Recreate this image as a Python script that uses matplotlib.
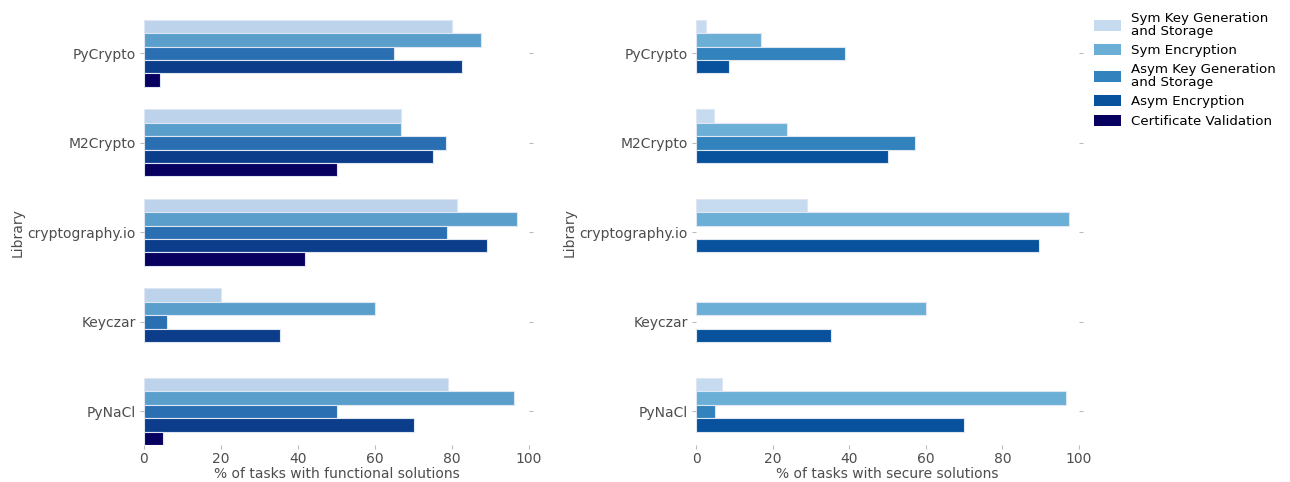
import matplotlib
matplotlib.use("Agg")
import matplotlib.pyplot as plt
import numpy as np
from matplotlib.patches import Patch

libraries = ["PyCrypto", "M2Crypto", "cryptography.io", "Keyczar", "PyNaCl"]
series = ["Sym Key Generation\nand Storage", "Sym Encryption",
          "Asym Key Generation\nand Storage", "Asym Encryption",
          "Certificate Validation"]

functional_sym_key = [80.0, 66.7, 81.3, 20.0, 79.0]
functional_sym_enc = [87.5, 66.7, 97.0, 60.0, 96.2]
functional_asym_key = [65.0, 78.5, 78.7, 5.9, 50.0]
functional_asym_enc = [82.5, 75.0, 89.1, 35.2, 70.0]
functional_cert = [4.2, 50.0, 41.9, 0.0, 5.0]

secure_sym_key = [2.5, 4.7, 29.0, 0.0, 6.8]
secure_sym_enc = [17.0, 23.7, 97.3, 60.0, 96.6]
secure_asym_key = [39.0, 57.1, 0.0, 0.0, 4.9]
secure_asym_enc = [8.5, 50.0, 89.5, 35.2, 70.0]
secure_cert = [0.0, 0.0, 0.0, 0.0, 0.0]

xticks = [0, 20, 40, 60, 80, 100]

left_colors = ["#bcd3eb", "#5a9fcc", "#2a6fb2", "#0c3d8a", "#07005f"]
right_colors = ["#c6dbef", "#6baed6", "#3182bd", "#08519c", "#07005f"]
text_color = "#4d4d4d"

fig = plt.figure(figsize=(12.9, 4.82), dpi=100)
ax1 = fig.add_axes([144/1290, 1-445/482, 385/1290, (445-19.7)/482])
ax2 = fig.add_axes([696/1290, 1-445/482, 383/1290, (445-19.7)/482])

left_data = [functional_sym_key, functional_sym_enc, functional_asym_key,
             functional_asym_enc, functional_cert]
right_data = [secure_sym_key, secure_sym_enc, secure_asym_key,
              secure_asym_enc, secure_cert]

pos = np.arange(len(libraries))
bw = 0.15
for ax, data, colors, xlabel in [
        (ax1, left_data, left_colors, "% of tasks with functional solutions"),
        (ax2, right_data, right_colors, "% of tasks with secure solutions")]:
    for i, vals in enumerate(data):
        offs = -0.375 + bw/2 + i*bw
        v = np.array(vals)
        mask = v > 0
        ax.barh(pos[mask] + offs, v[mask], height=bw, color=colors[i],
                edgecolor="#dde6f2", linewidth=0.8)
    ax.set_ylim(4.375, -0.375)
    ax.set_xlim(0, 100)
    ax.set_yticks(pos)
    ax.set_yticklabels(libraries)
    ax.set_xticks(xticks)
    ax.set_xlabel(xlabel, color=text_color, fontsize=10, labelpad=1)
    ax.set_ylabel("Library", color=text_color, fontsize=10, labelpad=2)
    for s in ax.spines.values():
        s.set_visible(False)
    ax.tick_params(axis="both", colors="#bbbbbb", labelcolor=text_color,
                   labelsize=10, length=3, width=0.8)
    ax.tick_params(axis="y", right=True, pad=3)
    ax.tick_params(axis="x", pad=2)

handles = [Patch(facecolor=c, edgecolor="none") for c in right_colors[:4]] + \
          [Patch(facecolor=left_colors[4], edgecolor="none")]
leg = fig.legend(handles, series, loc="upper left",
                 bbox_to_anchor=(1082/1290, 1.0),
                 frameon=False, fontsize=9.6, labelcolor="black",
                 handlelength=2.0, handleheight=0.9, labelspacing=0.48,
                 handletextpad=0.8)
for t in leg.get_texts():
    t.set_linespacing(0.95)

fig.savefig("out.png", dpi=100)
